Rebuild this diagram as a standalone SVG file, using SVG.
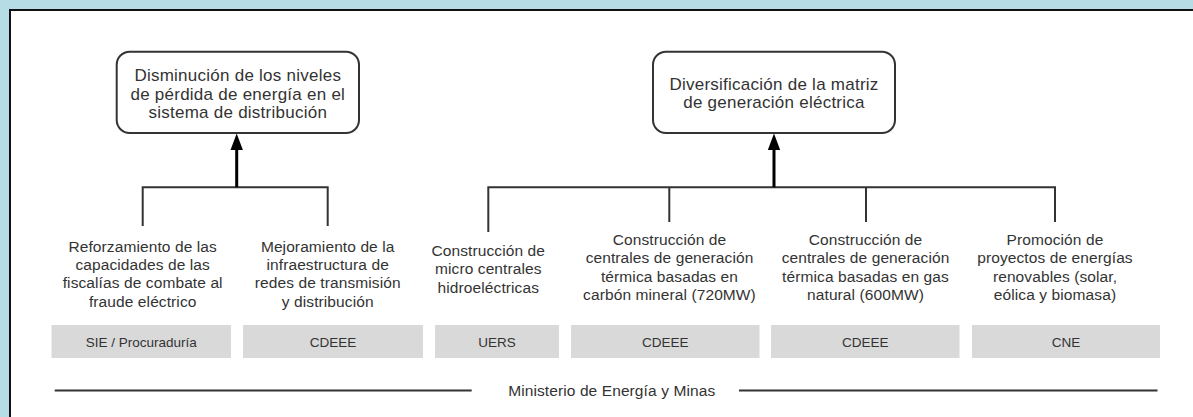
<svg xmlns="http://www.w3.org/2000/svg" width="1193" height="417" viewBox="0 0 1193 417">
<defs>
<style>
.t{font-family:"Liberation Sans",Arial,sans-serif;fill:#333;text-anchor:middle}
.top{font-size:17px;letter-spacing:0.25px}
.lbl{font-size:15.5px;letter-spacing:0.1px}
.ag{font-size:13.5px}
.goal{fill:#fff;stroke:#333;stroke-width:2}
.grey{fill:#d9d9d9}
.line{fill:none;stroke:#333;stroke-width:2}
.shaft{fill:none;stroke:#000;stroke-width:3}
</style>
</defs>
<rect x="0" y="0" width="1193" height="417" fill="#b6dde6"/>
<rect x="10" y="10" width="1200" height="420" fill="#fff" stroke="#111" stroke-width="2"/>

<g id="connectors">
<path class="line" d="M142.7,226 V187.3 H327.7 V226"/>
<path class="shaft" d="M236.7,187.3 V149"/>
<path d="M230.5,150 L236.7,133.5 L242.9,150 Z" fill="#000"/>
<path class="line" d="M488.3,232 V187.3 H1055 V222"/>
<path class="line" d="M669.3,187.3 V222 M866,187.3 V222"/>
<path class="shaft" d="M774,187.3 V149"/>
<path d="M767.8,150 L774,133.5 L780.2,150 Z" fill="#000"/>
<path class="line" d="M54.7,390.5 H471.7 M739,390.5 H1157.5"/>
</g>

<g id="goal1">
<rect class="goal" x="116.7" y="51.7" width="242.3" height="81.3" rx="13"/>
<text class="t top" x="237.8" y="80.7">Disminución de los niveles</text>
<text class="t top" x="237.8" y="99.5">de pérdida de energía en el</text>
<text class="t top" x="237.8" y="118.3">sistema de distribución</text>
</g>
<g id="goal2">
<rect class="goal" x="653" y="51.7" width="242" height="81.3" rx="13"/>
<text class="t top" x="774" y="89.5">Diversificación de la matriz</text>
<text class="t top" x="774" y="108.3">de generación eléctrica</text>
</g>

<g id="act1">
<text class="t lbl" x="142.7" y="251.7">Reforzamiento de las</text>
<text class="t lbl" x="142.7" y="270">capacidades de las</text>
<text class="t lbl" x="142.7" y="288.3">fiscalías de combate al</text>
<text class="t lbl" x="142.7" y="306.5">fraude eléctrico</text>
</g>
<g id="act2">
<text class="t lbl" x="327.7" y="251.7">Mejoramiento de la</text>
<text class="t lbl" x="327.7" y="270">infraestructura de</text>
<text class="t lbl" x="327.7" y="288.3">redes de transmisión</text>
<text class="t lbl" x="327.7" y="306.5">y distribución</text>
</g>
<g id="act3">
<text class="t lbl" x="488.3" y="256">Construcción de</text>
<text class="t lbl" x="488.3" y="274.3">micro centrales</text>
<text class="t lbl" x="488.3" y="292.5">hidroeléctricas</text>
</g>
<g id="act4">
<text class="t lbl" x="669.5" y="245">Construcción de</text>
<text class="t lbl" x="669.5" y="263.3">centrales de generación</text>
<text class="t lbl" x="669.5" y="281.6">térmica basadas en</text>
<text class="t lbl" x="669.5" y="300">carbón mineral (720MW)</text>
</g>
<g id="act5">
<text class="t lbl" x="865.5" y="245">Construcción de</text>
<text class="t lbl" x="865.5" y="263.3">centrales de generación</text>
<text class="t lbl" x="865.5" y="281.6">térmica basadas en gas</text>
<text class="t lbl" x="865.5" y="300">natural (600MW)</text>
</g>
<g id="act6">
<text class="t lbl" x="1055" y="245">Promoción de</text>
<text class="t lbl" x="1055" y="263.3">proyectos de energías</text>
<text class="t lbl" x="1055" y="281.6">renovables (solar,</text>
<text class="t lbl" x="1055" y="300">eólica y biomasa)</text>
</g>

<g id="agency1"><rect class="grey" x="51.5" y="325" width="179.5" height="33"/><text class="t ag" x="141.2" y="346.5">SIE / Procuraduría</text></g>
<g id="agency2"><rect class="grey" x="243" y="325" width="180" height="33"/><text class="t ag" x="333" y="346.5">CDEEE</text></g>
<g id="agency3"><rect class="grey" x="435" y="325" width="124" height="33"/><text class="t ag" x="497" y="346.5">UERS</text></g>
<g id="agency4"><rect class="grey" x="571" y="325" width="188.5" height="33"/><text class="t ag" x="665.2" y="346.5">CDEEE</text></g>
<g id="agency5"><rect class="grey" x="771" y="325" width="188.5" height="33"/><text class="t ag" x="865.2" y="346.5">CDEEE</text></g>
<g id="agency6"><rect class="grey" x="972" y="325" width="188" height="33"/><text class="t ag" x="1066" y="346.5">CNE</text></g>

<g id="ministry">
<text class="t lbl" x="611.7" y="395.5">Ministerio de Energía y Minas</text>
</g>
</svg>
